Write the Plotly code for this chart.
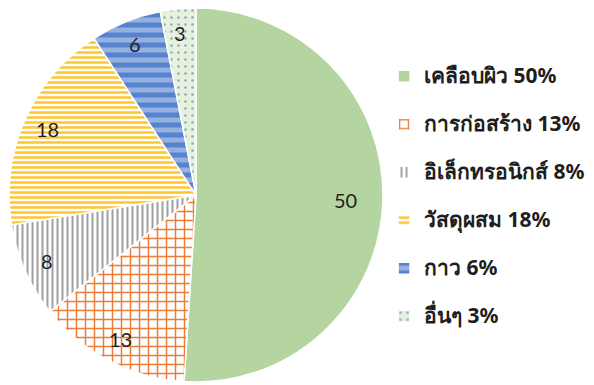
import math
import plotly.graph_objects as go

# Share of each application segment (per cent)
categories = ["เคลือบผิว", "การก่อสร้าง", "อิเล็กทรอนิกส์", "วัสดุผสม", "กาว", "อื่นๆ"]
values = [50, 13, 8, 18, 6, 3]

# Slice styling: base colour, pattern shape, foreground/background of the pattern
fill_colors = ["#b5d5a0", "#ed7d31", "#a5a5a5", "#ffc000", "#4f7fcc", "#e4f0db"]
pattern_shapes = ["", "+", "|", "-", "-", "."]
pattern_fg = ["#b5d5a0", "#ea7d3a", "#a0a0a0", "#ffc52e", "#5683cf", "#97aac4"]
pattern_bg = ["#b5d5a0", "#ffffff", "#ffffff", "#ffffff", "#96b1df", "#e6f1de"]
pattern_size = [8, 9, 5, 5, 10, 7]
pattern_solidity = [0.3, 0.3, 0.4, 0.5, 0.5, 0.12]

W, H = 594, 385
dom_x = [0.0152, 0.6448]
dom_y = [0.0078, 0.979]

legend_labels = [
    f"<span style='font-size:21px;font-weight:bold'>{c} {v}%</span><br>\u00a0"
    for c, v in zip(categories, values)
]

fig = go.Figure(
    go.Pie(
        labels=legend_labels,
        values=values,
        sort=False,
        direction="clockwise",
        rotation=0,
        textinfo="none",
        hoverinfo="value",
        domain=dict(x=dom_x, y=dom_y),
        marker=dict(
            colors=fill_colors,
            line=dict(color="#ffffff", width=1.5),
            pattern=dict(
                shape=pattern_shapes,
                fgcolor=pattern_fg,
                bgcolor=pattern_bg,
                size=pattern_size,
                solidity=pattern_solidity,
                fillmode="replace",
            ),
        ),
    )
)

# Value labels placed near the outer end of each slice
cx = (dom_x[0] + dom_x[1]) / 2 * W
cy = (1 - (dom_y[0] + dom_y[1]) / 2) * H
radius = min((dom_x[1] - dom_x[0]) * W, (dom_y[1] - dom_y[0]) * H) / 2
total = sum(values)
cum = 0
for v in values:
    mid = (cum + v / 2) / total * 2 * math.pi
    cum += v
    frac = 0.8 if v >= 30 else 0.87
    px = cx + frac * radius * math.sin(mid)
    py = cy - frac * radius * math.cos(mid)
    fig.add_annotation(
        x=px / W, y=1 - py / H, xref="paper", yref="paper",
        xanchor="center", yanchor="middle",
        text=str(v), showarrow=False,
        font=dict(family="Lato, Open Sans, sans-serif", size=20, color="#1e1e1e"),
    )

fig.update_layout(
    width=W,
    height=H,
    margin=dict(l=0, r=0, t=0, b=0),
    paper_bgcolor="#ffffff",
    plot_bgcolor="#ffffff",
    showlegend=True,
    legend=dict(
        x=0.6466, y=0.848, xanchor="left", yanchor="top",
        valign="top",
        font=dict(family="Noto Sans, Tahoma, sans-serif", size=17.3, color="#1e1e1e"),
        bgcolor="rgba(0,0,0,0)",
    ),
)

fig.write_html("out.html")
